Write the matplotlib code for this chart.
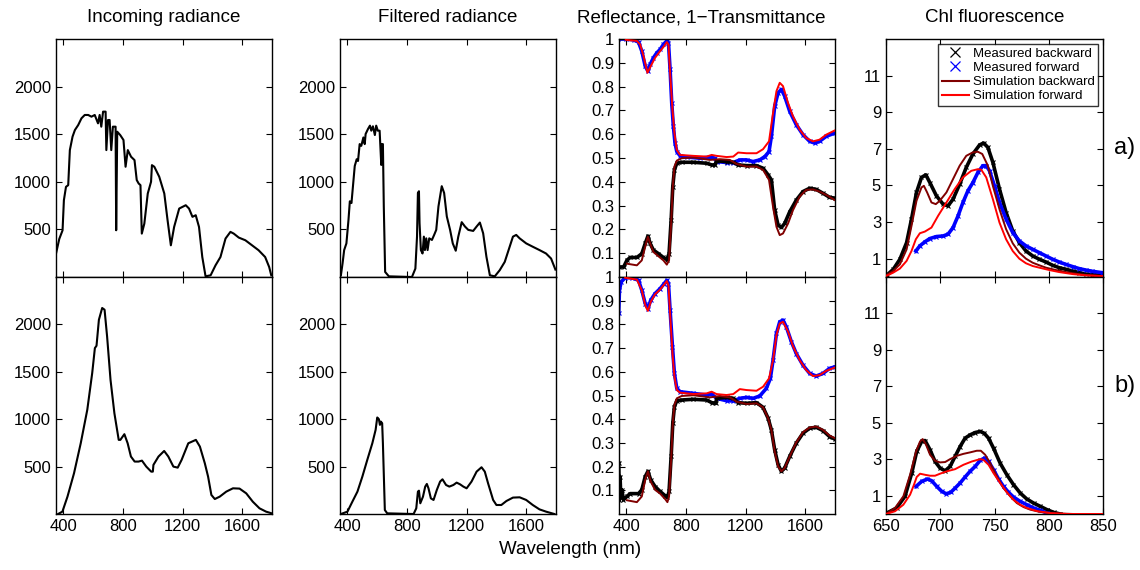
import matplotlib
matplotlib.use('Agg')
import matplotlib.pyplot as plt
from matplotlib.lines import Line2D

plt.rcParams['font.family'] = ['Liberation Sans', 'DejaVu Sans']

# ---- incoming radiance, panel a)
inc_a_wl = [350, 372, 394, 403, 417, 432, 443, 461, 477, 499, 521, 543, 566, 588, 610, 632, 643, 654,
            666, 683, 688, 699, 710, 721, 732, 750, 754, 761, 781, 803, 817, 832, 854, 877, 892, 905,
            917, 926, 943, 966, 988, 994, 1010, 1043, 1077, 1099, 1121, 1143, 1177, 1221, 1243, 1266,
            1288, 1310, 1332, 1354, 1388, 1421, 1454, 1488, 1521, 1543, 1577, 1621, 1666, 1710, 1754,
            1781, 1795]
inc_a_val = [245, 400, 490, 807, 947, 965, 1333, 1474, 1544, 1596, 1667, 1702, 1702, 1684, 1702, 1614,
             1702, 1579, 1737, 1737, 1333, 1649, 1649, 1333, 1579, 1579, 491, 1526, 1491, 1439, 1158,
             1333, 1263, 1228, 1018, 982, 965, 456, 561, 877, 1000, 1175, 1158, 1053, 877, 596, 333,
             526, 719, 754, 719, 632, 649, 526, 210, 7, 18, 123, 210, 404, 474, 456, 414, 386, 333,
             281, 210, 105, 18]

# ---- incoming radiance, panel b)
inc_b_wl = [364, 393, 427, 471, 516, 560, 593, 611, 622, 638, 660, 676, 693, 716, 742, 771, 782, 809,
            831, 853, 878, 904, 927, 956, 989, 1000, 1004, 1038, 1076, 1104, 1138, 1167, 1193, 1238,
            1289, 1316, 1349, 1371, 1393, 1416, 1449, 1493, 1538, 1582, 1627, 1671, 1716, 1760, 1798]
inc_b_val = [0, 25, 183, 430, 746, 1099, 1486, 1750, 1775, 2049, 2173, 2155, 1873, 1415, 1063, 782,
             782, 842, 746, 606, 553, 553, 563, 500, 447, 447, 518, 606, 665, 606, 500, 489, 570, 746,
             782, 711, 535, 394, 201, 158, 183, 236, 271, 268, 218, 130, 60, 25, 7]

# ---- filtered radiance, panel a)
fil_a_wl = [356, 367, 378, 393, 407, 416, 427, 433, 449, 462, 471, 482, 493, 507, 516, 522, 538, 551,
            560, 571, 584, 593, 604, 616, 627, 631, 638, 644, 653, 678, 833, 856, 867, 873, 880, 884,
            893, 904, 913, 920, 929, 938, 949, 967, 982, 996, 1011, 1033, 1049, 1067, 1089, 1107,
            1127, 1144, 1167, 1189, 1211, 1244, 1267, 1289, 1311, 1333, 1356, 1389, 1422, 1456, 1489,
            1511, 1533, 1556, 1600, 1644, 1689, 1733, 1767, 1796]
fil_a_val = [18, 141, 283, 353, 601, 795, 777, 883, 1166, 1237, 1219, 1396, 1378, 1466, 1396, 1502,
             1555, 1590, 1537, 1583, 1491, 1590, 1537, 1537, 1177, 1396, 1396, 742, 53, 7, 0, 88, 424,
             883, 901, 565, 283, 247, 424, 283, 406, 283, 406, 389, 442, 495, 742, 954, 883, 636, 495,
             353, 276, 424, 576, 530, 495, 484, 530, 572, 459, 212, 18, 7, 71, 159, 318, 424, 442,
             406, 353, 318, 283, 247, 194, 78]

# ---- filtered radiance, panel b)
fil_b_wl = [356, 400, 433, 467, 500, 533, 567, 589, 600, 611, 618, 624, 633, 638, 651, 667, 844, 862,
            873, 880, 889, 907, 922, 933, 944, 960, 978, 1000, 1022, 1038, 1062, 1084, 1111, 1133,
            1156, 1178, 1200, 1233, 1267, 1300, 1322, 1344, 1378, 1400, 1433, 1467, 1511, 1556, 1600,
            1644, 1689, 1733, 1789]
fil_b_val = [0, 25, 130, 236, 394, 570, 746, 887, 1018, 1000, 940, 975, 958, 746, 42, 7, 0, 60, 236,
             246, 113, 183, 289, 317, 271, 165, 148, 254, 342, 366, 306, 289, 306, 331, 313, 289, 271,
             342, 447, 493, 447, 324, 148, 95, 95, 137, 173, 176, 148, 95, 49, 25, 0]

# ---- reflectance / 1-transmittance, panel a)
rt_a_mf_wl = [345, 400, 448, 481, 503, 526, 544, 559, 581, 604, 626, 648, 671, 682, 693, 704, 715, 726,
              738, 760, 804, 894, 961, 994, 1005, 1072, 1117, 1161, 1206, 1250, 1295, 1329, 1357, 1373,
              1395, 1418, 1440, 1462, 1496, 1540, 1585, 1630, 1663, 1696, 1741, 1799]
rt_a_mf = [1.0, 1.0, 0.996, 0.987, 0.949, 0.886, 0.865, 0.893, 0.921, 0.942, 0.956, 0.977, 0.992, 0.985,
           0.872, 0.731, 0.633, 0.563, 0.527, 0.509, 0.504, 0.499, 0.504, 0.499, 0.485, 0.481, 0.481,
           0.492, 0.492, 0.485, 0.492, 0.506, 0.527, 0.591, 0.717, 0.774, 0.788, 0.760, 0.696, 0.640,
           0.598, 0.570, 0.563, 0.570, 0.591, 0.605]
rt_a_sf_wl = [395, 403, 470, 492, 515, 541, 563, 592, 626, 653, 671, 682, 693, 709, 722, 738, 760, 849,
              938, 972, 1005, 1072, 1117, 1150, 1206, 1273, 1317, 1357, 1384, 1407, 1429, 1451, 1485,
              1518, 1563, 1607, 1652, 1696, 1741, 1799]
rt_a_sf = [0.997, 0.996, 0.992, 0.977, 0.928, 0.858, 0.886, 0.921, 0.949, 0.970, 0.987, 0.977, 0.858,
           0.703, 0.605, 0.534, 0.513, 0.509, 0.506, 0.513, 0.509, 0.504, 0.506, 0.523, 0.520, 0.520,
           0.537, 0.570, 0.689, 0.781, 0.816, 0.802, 0.731, 0.675, 0.619, 0.584, 0.570, 0.577, 0.598,
           0.616]
rt_a_mb_wl = [350, 381, 403, 425, 470, 503, 526, 544, 559, 581, 615, 648, 671, 686, 700, 711, 722, 738,
              771, 849, 938, 972, 994, 1005, 1072, 1117, 1150, 1206, 1273, 1317, 1351, 1373, 1395, 1418,
              1440, 1462, 1496, 1540, 1585, 1630, 1674, 1719, 1763, 1799]
rt_a_mb = [0.042, 0.042, 0.070, 0.082, 0.082, 0.098, 0.141, 0.172, 0.141, 0.113, 0.098, 0.082, 0.073,
           0.098, 0.239, 0.380, 0.450, 0.478, 0.482, 0.482, 0.478, 0.471, 0.471, 0.488, 0.485, 0.482,
           0.471, 0.468, 0.468, 0.457, 0.429, 0.408, 0.281, 0.218, 0.208, 0.225, 0.274, 0.323, 0.359,
           0.373, 0.368, 0.352, 0.335, 0.331]
rt_a_sb_wl = [403, 470, 503, 526, 544, 559, 581, 615, 648, 671, 686, 700, 711, 722, 738, 771, 849, 961,
              1027, 1094, 1139, 1206, 1273, 1317, 1357, 1384, 1407, 1429, 1451, 1485, 1518, 1563, 1607,
              1652, 1696, 1741, 1799]
rt_a_sb = [0.056, 0.049, 0.070, 0.127, 0.169, 0.141, 0.105, 0.087, 0.070, 0.052, 0.070, 0.225, 0.380,
           0.464, 0.489, 0.499, 0.502, 0.492, 0.495, 0.492, 0.475, 0.464, 0.464, 0.450, 0.408, 0.295,
           0.211, 0.176, 0.183, 0.225, 0.281, 0.338, 0.366, 0.368, 0.359, 0.345, 0.323]

# ---- reflectance / 1-transmittance, panel b)
rt_b_mf_wl = [348, 353, 364, 391, 436, 481, 503, 526, 544, 563, 592, 626, 653, 671, 682, 693, 709, 722,
              738, 760, 849, 938, 972, 1005, 1072, 1117, 1161, 1206, 1250, 1295, 1339, 1366, 1384, 1407,
              1429, 1451, 1473, 1507, 1540, 1585, 1630, 1674, 1719, 1763, 1799]
rt_b_mf = [0.846, 0.944, 0.979, 0.997, 0.997, 0.986, 0.944, 0.888, 0.867, 0.902, 0.930, 0.951, 0.972,
           0.986, 0.972, 0.860, 0.705, 0.593, 0.530, 0.516, 0.509, 0.502, 0.506, 0.488, 0.478, 0.477,
           0.488, 0.492, 0.488, 0.498, 0.530, 0.572, 0.649, 0.762, 0.811, 0.818, 0.790, 0.727, 0.677,
           0.628, 0.593, 0.582, 0.593, 0.614, 0.621]
rt_b_sf_wl = [391, 470, 503, 526, 544, 563, 592, 626, 653, 671, 682, 693, 709, 722, 738, 760, 849, 938,
              972, 1005, 1072, 1117, 1161, 1206, 1273, 1317, 1357, 1384, 1407, 1429, 1451, 1485, 1518,
              1563, 1607, 1652, 1696, 1741, 1799]
rt_b_sf = [0.997, 0.989, 0.944, 0.881, 0.857, 0.895, 0.927, 0.947, 0.968, 0.983, 0.965, 0.846, 0.677,
           0.579, 0.523, 0.512, 0.506, 0.509, 0.516, 0.506, 0.502, 0.506, 0.527, 0.523, 0.520, 0.537,
           0.572, 0.649, 0.755, 0.804, 0.811, 0.769, 0.708, 0.649, 0.607, 0.582, 0.586, 0.604, 0.618]
rt_b_mb_wl = [348, 353, 357, 362, 369, 380, 403, 425, 481, 503, 526, 544, 563, 592, 626, 660, 675, 686,
              700, 711, 722, 738, 771, 849, 938, 972, 1000, 1005, 1072, 1117, 1150, 1206, 1273, 1317,
              1351, 1373, 1395, 1418, 1440, 1462, 1496, 1540, 1585, 1630, 1674, 1719, 1763, 1799]
rt_b_mb = [0.215, 0.060, 0.158, 0.074, 0.102, 0.060, 0.074, 0.086, 0.086, 0.102, 0.158, 0.180, 0.144,
           0.116, 0.095, 0.077, 0.070, 0.095, 0.243, 0.383, 0.453, 0.478, 0.481, 0.484, 0.481, 0.470,
           0.467, 0.488, 0.492, 0.488, 0.470, 0.467, 0.470, 0.450, 0.404, 0.355, 0.271, 0.208, 0.180,
           0.194, 0.243, 0.299, 0.341, 0.362, 0.366, 0.352, 0.327, 0.316]
rt_b_sb_wl = [403, 470, 503, 526, 544, 563, 592, 626, 660, 675, 686, 700, 711, 722, 738, 771, 849, 961,
              1027, 1094, 1139, 1206, 1273, 1317, 1351, 1373, 1395, 1418, 1440, 1462, 1496, 1540, 1585,
              1630, 1674, 1719, 1763, 1799]
rt_b_sb = [0.058, 0.050, 0.074, 0.144, 0.180, 0.137, 0.102, 0.086, 0.063, 0.050, 0.074, 0.229, 0.383,
           0.460, 0.488, 0.498, 0.501, 0.492, 0.498, 0.492, 0.474, 0.464, 0.467, 0.450, 0.404, 0.355,
           0.264, 0.201, 0.180, 0.194, 0.243, 0.302, 0.345, 0.365, 0.369, 0.355, 0.331, 0.320]

# ---- Chl fluorescence, panel a)
fl_a_mb_wl = [650.6, 656.7, 662.8, 669, 673.5, 678.1, 682.7, 686.7, 690.4, 696.5, 702.6, 707.2, 711.8,
              717.9, 724, 730.1, 736.2, 739.9, 743.9, 748.5, 754.6, 760.7, 766.8, 772.9, 779, 785.2,
              791.3, 797.4, 803.5, 809.6, 815.7, 821.9, 828, 834.1, 840.2, 848.8]
fl_a_mb = [0.09, 0.42, 0.97, 1.88, 3.16, 4.62, 5.44, 5.58, 5.16, 4.43, 3.98, 3.89, 4.25, 5.07, 5.99,
           6.72, 7.21, 7.32, 7.08, 6.26, 4.80, 3.52, 2.52, 1.88, 1.42, 1.15, 0.97, 0.82, 0.64, 0.51,
           0.42, 0.33, 0.24, 0.16, 0.13, 0.09]
fl_a_mf_wl = [677.5, 681.2, 685.8, 690.4, 696.5, 702.6, 707.2, 711.8, 716.4, 720.9, 725.5, 730.1, 734.7,
              739.3, 742.4, 745.4, 750, 754.6, 760.7, 766.8, 772.9, 779, 785.2, 791.3, 797.4, 803.5,
              809.6, 815.7, 821.9, 828, 834.1, 840.2, 848.8]
fl_a_mf = [1.42, 1.70, 1.92, 2.10, 2.21, 2.24, 2.34, 2.70, 3.34, 4.07, 4.71, 5.16, 5.71, 6.08, 6.08,
           5.80, 4.98, 4.07, 3.16, 2.43, 1.97, 1.70, 1.51, 1.33, 1.15, 0.97, 0.82, 0.69, 0.57, 0.46,
           0.38, 0.31, 0.24]
fl_a_sb_wl = [650, 656.7, 662.8, 669, 673.5, 678.1, 682.7, 684.9, 687.9, 691.9, 695.9, 699.5, 705.7,
              711.8, 717.9, 724, 730.1, 734.7, 738.7, 743.9, 748.5, 754.6, 760.7, 766.8, 772.9, 779,
              785.2, 791.3, 797.4, 806.6, 815.7, 824.9, 834.1, 850]
fl_a_sb = [0.09, 0.33, 0.69, 1.51, 2.79, 4.16, 4.89, 4.98, 4.62, 4.07, 3.98, 4.16, 4.62, 5.35, 6.08,
           6.62, 6.81, 6.84, 6.72, 6.08, 4.98, 3.70, 2.61, 1.84, 1.33, 1.00, 0.78, 0.64, 0.51, 0.38,
           0.27, 0.18, 0.11, 0.05]
fl_a_sf_wl = [650, 656.7, 662.8, 669, 673.5, 677.5, 681.2, 685.8, 691.9, 698, 705.7, 713.3, 720.9,
              728.6, 734.7, 737.8, 742.4, 748.5, 754.6, 760.7, 766.8, 772.9, 779, 785.2, 791.3, 800.5,
              809.6, 821.9, 834.1, 850]
fl_a_sf = [0.05, 0.24, 0.46, 0.88, 1.42, 2.06, 2.39, 2.48, 2.70, 3.34, 4.07, 4.80, 5.44, 5.80, 5.89,
           5.86, 5.44, 4.25, 2.97, 2.06, 1.42, 1.00, 0.75, 0.60, 0.51, 0.38, 0.27, 0.16, 0.09, 0.05]

# ---- Chl fluorescence, panel b)
fl_b_mb_wl = [650.6, 659.8, 667.5, 673.7, 678.3, 682.9, 686, 690.6, 695.2, 699.8, 704.5, 709.1, 713.7,
              718.3, 722.9, 727.5, 732.2, 736.8, 740.5, 744.5, 749.1, 755.2, 761.4, 767.5, 773.7, 779.8,
              786, 792.2, 798.3, 804.5, 810.6]
fl_b_mb = [0.05, 0.33, 0.97, 2.24, 3.43, 3.98, 4.03, 3.52, 2.88, 2.52, 2.37, 2.61, 3.16, 3.70, 4.16,
           4.34, 4.47, 4.53, 4.43, 4.16, 3.61, 2.79, 2.15, 1.61, 1.15, 0.82, 0.60, 0.42, 0.24, 0.09, 0.0]
fl_b_mf_wl = [677.7, 682.9, 688.2, 692.2, 696.8, 701.4, 705.4, 709.7, 713.7, 718.3, 722.9, 727.5, 732.2,
              736.8, 740.8, 744.5, 749.1, 753.7, 758.3, 762.9, 767.5, 773.7, 779.8, 786, 792.2, 798.3,
              803]
fl_b_mf = [1.51, 1.79, 1.92, 1.82, 1.51, 1.24, 1.11, 1.19, 1.42, 1.70, 2.03, 2.34, 2.61, 2.94, 3.07,
           2.88, 2.43, 1.92, 1.51, 1.19, 0.93, 0.69, 0.51, 0.33, 0.20, 0.05, 0.0]
fl_b_sb_wl = [650, 658.3, 666, 672.2, 677.7, 681.4, 683.8, 686.9, 690.6, 695.2, 699.8, 704.5, 709.1,
              715.2, 721.4, 727.5, 733.7, 737.4, 741.4, 746, 752.2, 758.3, 764.5, 770.6, 776.8, 782.9,
              792.2, 804.5, 822.9, 850]
fl_b_sb = [0, 0.33, 0.97, 2.15, 3.43, 3.98, 4.11, 3.80, 3.25, 2.92, 2.83, 2.85, 3.01, 3.19, 3.30,
           3.38, 3.47, 3.47, 3.25, 2.79, 2.06, 1.42, 0.97, 0.60, 0.38, 0.24, 0.11, 0.04, 0, 0]
fl_b_sf_wl = [650, 658.3, 666, 672.2, 675.8, 678.3, 681.4, 686, 690.6, 695.2, 699.8, 706, 713.7, 721.4,
              729.1, 736.8, 739.8, 744.5, 749.1, 755.2, 761.4, 767.5, 773.7, 779.8, 789.1, 801.4, 816.8,
              850]
fl_b_sf = [0, 0.15, 0.51, 1.06, 1.61, 2.03, 2.21, 2.15, 2.10, 2.10, 2.21, 2.34, 2.46, 2.70, 2.88, 3.01,
           2.97, 2.70, 2.24, 1.70, 1.19, 0.78, 0.51, 0.33, 0.16, 0.05, 0, 0]

titles = ['Incoming radiance', 'Filtered radiance', 'Reflectance, 1\u2212Transmittance', 'Chl fluorescence']
row_labels = ['a)', 'b)']
legend_labels = ['Measured backward', 'Measured forward', 'Simulation backward', 'Simulation forward']

C_MB = 'black'
C_MF = '#0000ff'
C_SB = '#800000'
C_SF = '#ff0000'

W, H = 1140, 570
fig = plt.figure(figsize=(W / 100, H / 100), dpi=100)

lefts = [56, 340, 619, 886]
widths = [216, 216, 216, 217]
row_top = [39, 277]
row_h = [238, 237]
title_x = [164, 448, 701, 995]

axes = [[None] * 4 for _ in range(2)]
for r in range(2):
    for c in range(4):
        ax = fig.add_axes([lefts[c] / W, 1 - (row_top[r] + row_h[r]) / H, widths[c] / W, row_h[r] / H])
        ax.tick_params(direction='in', top=True, right=True, length=4, width=0.8, labelsize=12)
        for s in ax.spines.values():
            s.set_linewidth(1.0)
        axes[r][c] = ax


def measured(ax, x, y, color):
    ax.plot(x, y, color=color, lw=2.6, marker='x', ms=2.5, mew=0.8, zorder=2)


radiance = [(inc_a_wl, inc_a_val, fil_a_wl, fil_a_val), (inc_b_wl, inc_b_val, fil_b_wl, fil_b_val)]
refl = [(rt_a_mb_wl, rt_a_mb, rt_a_mf_wl, rt_a_mf, rt_a_sb_wl, rt_a_sb, rt_a_sf_wl, rt_a_sf),
        (rt_b_mb_wl, rt_b_mb, rt_b_mf_wl, rt_b_mf, rt_b_sb_wl, rt_b_sb, rt_b_sf_wl, rt_b_sf)]
fluo = [(fl_a_mb_wl, fl_a_mb, fl_a_mf_wl, fl_a_mf, fl_a_sb_wl, fl_a_sb, fl_a_sf_wl, fl_a_sf),
        (fl_b_mb_wl, fl_b_mb, fl_b_mf_wl, fl_b_mf, fl_b_sb_wl, fl_b_sb, fl_b_sf_wl, fl_b_sf)]

for r in range(2):
    iw, iv, fw, fv = radiance[r]
    axes[r][0].plot(iw, iv, color='black', lw=1.5)
    axes[r][1].plot(fw, fv, color='black', lw=1.5)
    for c in (0, 1):
        ax = axes[r][c]
        ax.set_xlim(350, 1800)
        ax.set_ylim(0, 2500)
        ax.set_yticks([500, 1000, 1500, 2000])
        ax.set_xticks([400, 800, 1200, 1600])

    mbw, mb, mfw, mf, sbw, sb, sfw, sf = refl[r]
    ax = axes[r][2]
    measured(ax, mfw, mf, C_MF)
    measured(ax, mbw, mb, C_MB)
    ax.plot(sbw, sb, color=C_SB, lw=1.4, zorder=3)
    ax.plot(sfw, sf, color=C_SF, lw=1.4, zorder=3)
    ax.set_xlim(350, 1800)
    ax.set_ylim(0, 1)
    ax.set_xticks([400, 800, 1200, 1600])
    ax.set_yticks([0.1, 0.2, 0.3, 0.4, 0.5, 0.6, 0.7, 0.8, 0.9, 1.0])
    ax.set_yticklabels(['0.1', '0.2', '0.3', '0.4', '0.5', '0.6', '0.7', '0.8', '0.9', '1'])

    mbw, mb, mfw, mf, sbw, sb, sfw, sf = fluo[r]
    ax = axes[r][3]
    measured(ax, mbw, mb, C_MB)
    measured(ax, mfw, mf, C_MF)
    ax.plot(sbw, sb, color=C_SB, lw=1.4, zorder=3)
    ax.plot(sfw, sf, color=C_SF, lw=1.4, zorder=3)
    ax.set_xlim(650, 850)
    ax.set_ylim(0, 13)
    ax.set_xticks([650, 700, 750, 800, 850])
    ax.set_yticks([1, 3, 5, 7, 9, 11])

    if r == 0:
        for c in range(4):
            axes[r][c].tick_params(labelbottom=False)
            fig.text(title_x[c] / W, 1 - 18 / H, titles[c], fontsize=13.5, ha='center', va='center')

    fig.text(1125 / W, 1 - (row_top[r] + row_h[r] * 0.46) / H, row_labels[r], fontsize=17,
             ha='center', va='center')

handles = [Line2D([], [], color=C_MB, ls='none', marker='x', ms=7, mew=0.9),
           Line2D([], [], color=C_MF, ls='none', marker='x', ms=7, mew=0.9),
           Line2D([], [], color=C_SB, lw=1.5),
           Line2D([], [], color=C_SF, lw=1.5)]
leg = axes[0][3].legend(handles, legend_labels, loc='upper right', fontsize=9.5, frameon=True,
                        fancybox=False, borderaxespad=0.35, handlelength=2.0, handletextpad=0.3,
                        labelspacing=0.15, borderpad=0.3)
leg.get_frame().set_edgecolor('black')
leg.get_frame().set_linewidth(1.0)

fig.text(0.5, 1 - 550 / H, 'Wavelength (nm)', fontsize=13.5, ha='center', va='center')

fig.savefig('out.png', dpi=100)
